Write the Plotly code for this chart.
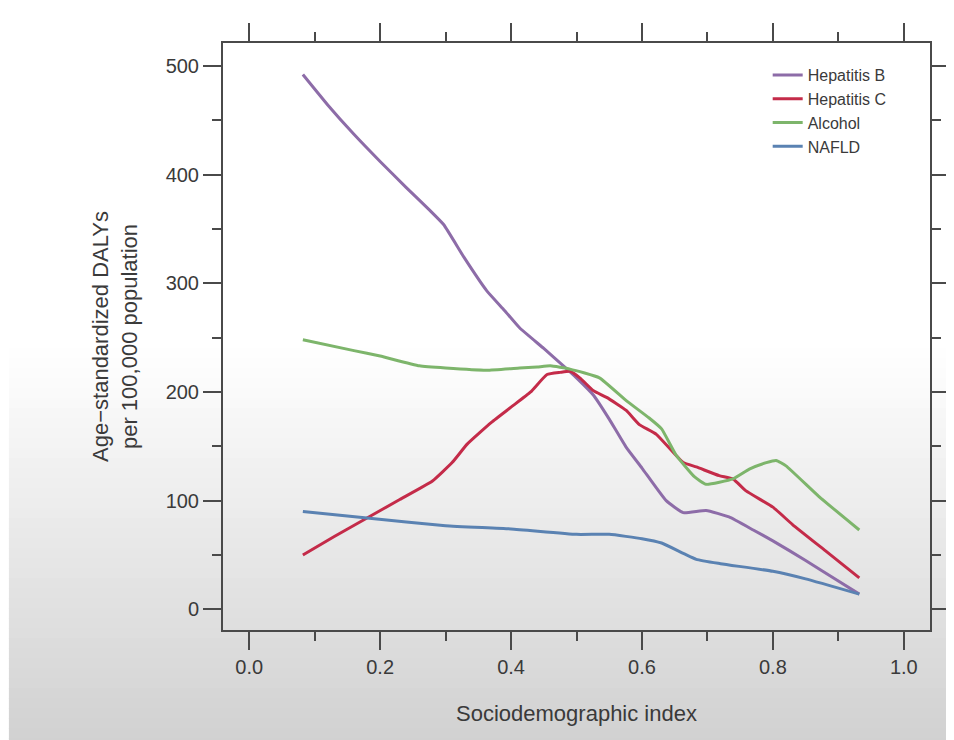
import plotly.graph_objects as go

# ---- data ----
sdi_b = [0.082, 0.12, 0.16, 0.20, 0.24, 0.276, 0.297, 0.328, 0.363, 0.39, 0.413, 0.45, 0.48, 0.50, 0.526,
         0.55, 0.576, 0.60, 0.637, 0.663, 0.698, 0.733, 0.77, 0.80, 0.85, 0.90, 0.932]
hep_b = [492, 464, 437, 412, 388, 367, 354, 324, 293, 275, 259, 240, 224, 213, 197,
         175, 149, 130, 100, 89, 91, 85, 73, 63, 45, 26, 14]

sdi_c = [0.082, 0.13, 0.18, 0.23, 0.28, 0.31, 0.333, 0.37, 0.40, 0.43, 0.455, 0.475, 0.49, 0.505,
         0.526, 0.546, 0.576, 0.596, 0.622, 0.663, 0.683, 0.718, 0.739, 0.759, 0.80, 0.83, 0.88, 0.932]
hep_c = [50, 67, 84, 101, 118, 135, 152, 172, 186, 200, 216, 218, 219, 213,
         201, 195, 183, 170, 161, 135, 131, 123, 120, 109, 94, 78, 54, 29]

sdi_a = [0.082, 0.16, 0.20, 0.26, 0.30, 0.363, 0.413, 0.44, 0.46, 0.49, 0.535, 0.576, 0.611, 0.63,
         0.652, 0.68, 0.698, 0.739, 0.764, 0.79, 0.805, 0.82, 0.87, 0.932]
alcohol = [248, 238, 233, 224, 222, 220, 222, 223, 224, 221, 213, 192, 176, 166,
           142, 122, 115, 120, 129, 135, 137, 132, 104, 73]

sdi_n = [0.082, 0.18, 0.30, 0.40, 0.50, 0.55, 0.60, 0.63, 0.683, 0.72, 0.80, 0.85, 0.932]
nafld = [90, 84, 77, 74, 69, 69, 65, 61, 46, 42, 35, 28, 14]

x_ticks = [0.0, 0.2, 0.4, 0.6, 0.8, 1.0]
x_tick_labels = ["0.0", "0.2", "0.4", "0.6", "0.8", "1.0"]
y_ticks = [0, 100, 200, 300, 400, 500]

series = [
    ("Hepatitis B", sdi_b, hep_b, "#8d6ca8"),
    ("Hepatitis C", sdi_c, hep_c, "#c42b49"),
    ("Alcohol", sdi_a, alcohol, "#7db56b"),
    ("NAFLD", sdi_n, nafld, "#5a82b2"),
]

fig = go.Figure()
for name, xs, ys, col in series:
    fig.add_trace(go.Scatter(x=xs, y=ys, mode="lines", name=name,
                             line=dict(color=col, width=3, shape="spline", smoothing=0.4)))

# background gradient (screenshot lighting), drawn as paper bands
shapes = []
fig_h = 740
top_px, bot_px, left_px, right_px = 35, 622, 215, 925
plot_h = bot_px - top_px
plot_w = right_px - left_px
start_px, n = 340, 40
step = (fig_h - start_px) / n
for i in range(n):
    p0 = start_px + i * step
    p1 = p0 + step + 1
    v = int(round(255 - (255 - 208) * (i + 0.5) / n))
    shapes.append(dict(type="rect", xref="paper", yref="paper", layer="below",
                       x0=(0 - left_px) / plot_w, x1=(954 - left_px) / plot_w,
                       y0=(bot_px - p1) / plot_h, y1=(bot_px - p0) / plot_h,
                       line=dict(width=0), fillcolor=f"rgb({v},{v},{v})"))

axis_common = dict(
    showgrid=False, zeroline=False, showline=True, linecolor="#4a4a4a", linewidth=2,
    mirror="ticks", ticks="outside", ticklen=18, tickwidth=2, tickcolor="#4a4a4a",
    tickfont=dict(family="Liberation Sans, Arial, sans-serif", size=20, color="#3a3a3a"),
)

fig.update_layout(
    width=954, height=740,
    margin=dict(l=left_px, r=954 - right_px, t=top_px, b=fig_h - bot_px),
    paper_bgcolor="white", plot_bgcolor="rgba(0,0,0,0)",
    shapes=shapes,
    font=dict(family="Liberation Sans, Arial, sans-serif", color="#3a3a3a"),
    xaxis=dict(axis_common, range=[-0.04, 1.04], tickvals=x_ticks, ticktext=x_tick_labels,
               minor=dict(dtick=0.1, ticks="outside", ticklen=9, tickwidth=2, tickcolor="#4a4a4a"),
               title=dict(text="Sociodemographic index", standoff=29,
                          font=dict(size=22, color="#3a3a3a"))),
    yaxis=dict(axis_common, range=[-19, 521], tickvals=y_ticks,
               minor=dict(dtick=50, ticks="outside", ticklen=9, tickwidth=2, tickcolor="#4a4a4a"),
               title=dict(text="Age\u2212standardized DALYs<br>per 100,000 population", standoff=22,
                          font=dict(size=22, color="#3a3a3a"))),
    legend=dict(x=(762 - left_px) / plot_w, y=(bot_px - 50) / plot_h, xanchor="left", yanchor="top",
                bgcolor="rgba(0,0,0,0)", borderwidth=0,
                font=dict(size=16, color="#3a3a3a")),
    showlegend=True,
)

fig.write_html("out.html")
